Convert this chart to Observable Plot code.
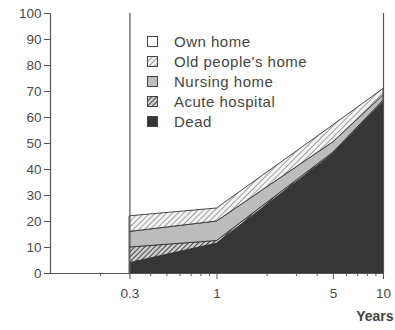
<!DOCTYPE html>
<html>
<head>
<meta charset="utf-8">
<script src="https://cdn.jsdelivr.net/npm/d3@7"></script>
<script src="https://cdn.jsdelivr.net/npm/@observablehq/plot@0.6"></script>
<style>
  html, body { margin: 0; padding: 0; background: #fff; }
  #wrap { position: relative; width: 395px; height: 330px; font-family: "Liberation Sans", Arial, sans-serif; }
  #legend { position: absolute; left: 147px; top: 31px; color: #444; font-size: 15px; letter-spacing: 0.5px; }
  .row { display: flex; align-items: center; height: 20px; }
  .row svg { margin-right: 16px; }
</style>
</head>
<body>
<div id="wrap"><div id="legend"></div></div>
<script>
// --- data ---
const years = [0.3, 1, 5, 10];
const dead = [4, 11.5, 46, 66];
const acute = [6, 1, 0.5, 0.5];
const nursing = [6, 7.5, 4, 2];
const oldHome = [6, 5, 6.5, 2.5];
const seriesNames = ["Dead", "Acute hospital", "Nursing home", "Old people's home"];
const legendNames = ["Own home", "Old people's home", "Nursing home", "Acute hospital", "Dead"];
const xTickValues = [0.3, 1, 5, 10];
const xMinorTicks = [0.2, 0.4, 0.5, 0.6, 0.7, 0.8, 0.9, 2, 3, 4, 6, 7, 8, 9];
const yTickValues = [0, 10, 20, 30, 40, 50, 60, 70, 80, 90, 100];
const xDomain = [0.1, 10];
const yDomain = [0, 100];

const fills = {
  "Own home": "#ffffff",
  "Old people's home": "url(#hatchOld)",
  "Nursing home": "#bcbcbc",
  "Acute hospital": "url(#hatchAcute)",
  "Dead": "#363636"
};

const valuesBySeries = {"Dead": dead, "Acute hospital": acute, "Nursing home": nursing, "Old people's home": oldHome};
const table = [];
for (const s of seriesNames) years.forEach((x, i) => table.push({year: x, series: s, value: valuesBySeries[s][i]}));

const chart = Plot.plot({
  width: 395,
  height: 330,
  marginLeft: 50,
  marginRight: 12,
  marginTop: 13,
  marginBottom: 57,
  style: {fontFamily: "Liberation Sans, Arial, sans-serif", fontSize: "13.5px", color: "#4a4a4a", background: "#fff"},
  x: {type: "log", domain: xDomain},
  y: {domain: yDomain},
  color: {domain: seriesNames, range: seriesNames.map(s => fills[s])},
  marks: [
    Plot.areaY(table, {x: "year", y: "value", z: "series", fill: "series", order: seriesNames, stroke: "#333", strokeWidth: 0.9}),
    Plot.ruleX([xDomain[0]], {stroke: "#555", strokeWidth: 1.2}),
    Plot.ruleX([xTickValues[0], xTickValues[xTickValues.length - 1]], {stroke: "#555", strokeWidth: 1.2}),
    Plot.ruleY([yDomain[0]], {stroke: "#555", strokeWidth: 1.2}),
    Plot.axisY({ticks: yTickValues, tickSize: 6, tickPadding: 3, label: null, fontSize: 13.5, letterSpacing: 1.2, stroke: "#555"}),
    Plot.axisX({ticks: xTickValues, tickSize: 6, tickPadding: 9, tickFormat: d => String(d), label: null, fontSize: 13.5, letterSpacing: 1.2, stroke: "#555"}),
    Plot.axisX({ticks: xMinorTicks, tickSize: 3, tickFormat: () => "", label: null, stroke: "#555"}),
    Plot.text(["Years"], {frameAnchor: "bottom-right", dx: 10, dy: 47, textAnchor: "end", fontWeight: "bold", fontSize: 14, letterSpacing: 1.6, fill: "#444"})
  ]
});

// hatch patterns
const defs = d3.select(chart).insert("defs", ":first-child");
const old = defs.append("pattern").attr("id", "hatchOld").attr("patternUnits", "userSpaceOnUse")
  .attr("width", 4).attr("height", 4).attr("patternTransform", "rotate(45)");
old.append("rect").attr("width", 4).attr("height", 4).attr("fill", "#f4f4f4");
old.append("line").attr("x1", 0).attr("y1", 0).attr("x2", 0).attr("y2", 4).attr("stroke", "#8a8a8a").attr("stroke-width", 1.6);
const ac = defs.append("pattern").attr("id", "hatchAcute").attr("patternUnits", "userSpaceOnUse")
  .attr("width", 3.5).attr("height", 3.5).attr("patternTransform", "rotate(45)");
ac.append("rect").attr("width", 3.5).attr("height", 3.5).attr("fill", "#cfcfcf");
ac.append("line").attr("x1", 0).attr("y1", 0).attr("x2", 0).attr("y2", 3.5).attr("stroke", "#3a3a3a").attr("stroke-width", 1.9);

document.getElementById("wrap").prepend(chart);

// legend
const legend = d3.select("#legend");
for (const name of legendNames) {
  const row = legend.append("div").attr("class", "row");
  const sw = row.append("svg").attr("width", 11).attr("height", 11);
  sw.append("rect").attr("x", 0.5).attr("y", 0.5).attr("width", 10).attr("height", 10)
    .attr("fill", fills[name]).attr("stroke", "#444").attr("stroke-width", 1);
  row.append("span").text(name);
}
</script>
</body>
</html>
